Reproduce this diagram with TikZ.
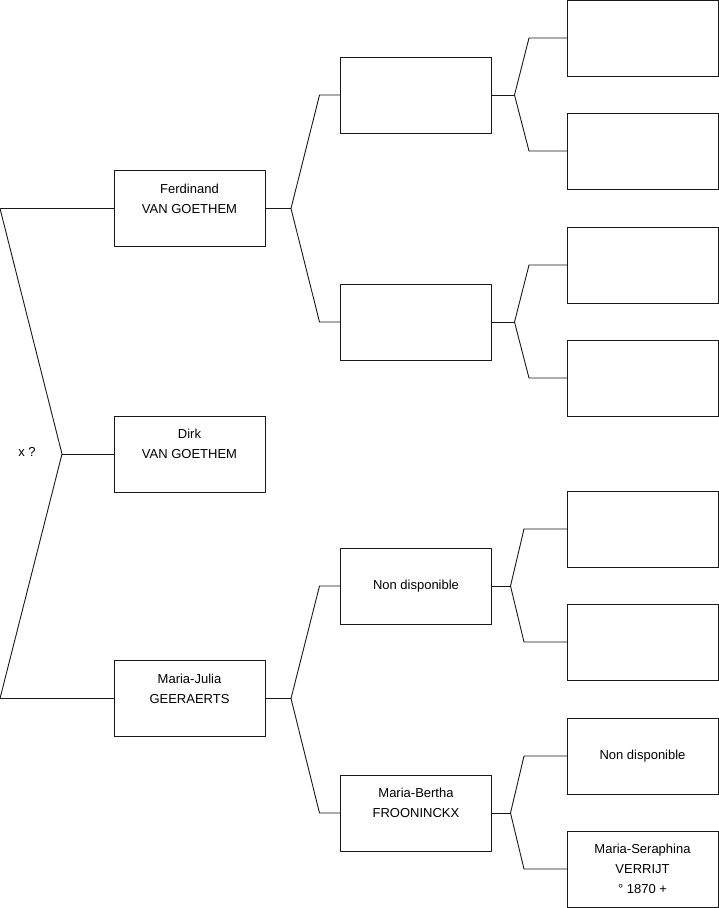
\documentclass[tikz,border=0pt]{standalone}
\usepackage{fontspec}
\setmainfont{Liberation Sans}
\usetikzlibrary{positioning}

\begin{document}
\begin{tikzpicture}[
    x=1pt, y=-1pt,
    font=\fontsize{13}{20}\selectfont,
    line width=0.9pt,
    person/.style={draw=black!90, minimum width=151pt, minimum height=76pt, inner sep=0pt, outer sep=0pt, align=center},
    link/.style={draw=black!90, line join=miter},
  ]
    \useasboundingbox[fill=white] (0,0) rectangle (719,908);

    % generation 1
    \node[person] (ferd)  at (189.5,208.5) {Ferdinand\\VAN GOETHEM\\~};
    \node[person] (dirk)  at (189.5,454) {Dirk\\VAN GOETHEM\\~};
    \node[person] (julia) at (189.5,698.5) {Maria-Julia\\GEERAERTS\\~};
    \node (xq) at (27,452) {x ?};

    % generation 2
    \node[person] (pa) at (416,95)  {};
    \node[person] (pb) at (416,322) {};
    \node[person] (pc) at (416,586) {Non disponible};
    \node[person] (pd) at (416,813) {Maria-Bertha\\FROONINCKX\\~};

    % generation 3
    \foreach \n/\y in {qa/38, qb/151, qc/265, qd/378, qe/529, qf/642}
      \node[person] (\n) at (642.5,\y) {};
    \node[person] (qg) at (642.5,756) {Non disponible};
    \node[person] (qh) at (642.5,869) {Maria-Seraphina\\VERRIJT\\\textdegree{} 1870 +};

    % joints
    \coordinate (r0) at (ferd.west -| 0,0);
    \coordinate (r1) at (julia.west -| 0,0);
    \coordinate (j0) at ([xshift=-52pt]dirk.west);
    \coordinate (jf) at ([xshift=26pt]ferd.east);
    \coordinate (jj) at ([xshift=26pt]julia.east);
    \coordinate (ja) at ([xshift=23pt]pa.east);
    \coordinate (jb) at ([xshift=23pt]pb.east);
    \coordinate (jc) at ([xshift=19pt]pc.east);
    \coordinate (jd) at ([xshift=19pt]pd.east);

    \draw[link] (ferd.west) -- (r0) -- (j0) -- (r1) -- (julia.west);
    \draw[link] (j0) -- (dirk.west);

    \draw[link] (ferd.east) -- (jf);
    \draw[link] (jf) -- ([xshift=-21pt]pa.west) -- (pa.west);
    \draw[link] (jf) -- ([xshift=-21pt]pb.west) -- (pb.west);
    \draw[link] (julia.east) -- (jj);
    \draw[link] (jj) -- ([xshift=-21pt]pc.west) -- (pc.west);
    \draw[link] (jj) -- ([xshift=-21pt]pd.west) -- (pd.west);

    \draw[link] (pa.east) -- (ja);
    \draw[link] (ja) -- ([xshift=-38pt]qa.west) -- (qa.west);
    \draw[link] (ja) -- ([xshift=-38pt]qb.west) -- (qb.west);
    \draw[link] (pb.east) -- (jb);
    \draw[link] (jb) -- ([xshift=-38pt]qc.west) -- (qc.west);
    \draw[link] (jb) -- ([xshift=-38pt]qd.west) -- (qd.west);
    \draw[link] (pc.east) -- (jc);
    \draw[link] (jc) -- ([xshift=-43pt]qe.west) -- (qe.west);
    \draw[link] (jc) -- ([xshift=-43pt]qf.west) -- (qf.west);
    \draw[link] (pd.east) -- (jd);
    \draw[link] (jd) -- ([xshift=-43pt]qg.west) -- (qg.west);
    \draw[link] (jd) -- ([xshift=-43pt]qh.west) -- (qh.west);
  \end{tikzpicture}
\end{document}
